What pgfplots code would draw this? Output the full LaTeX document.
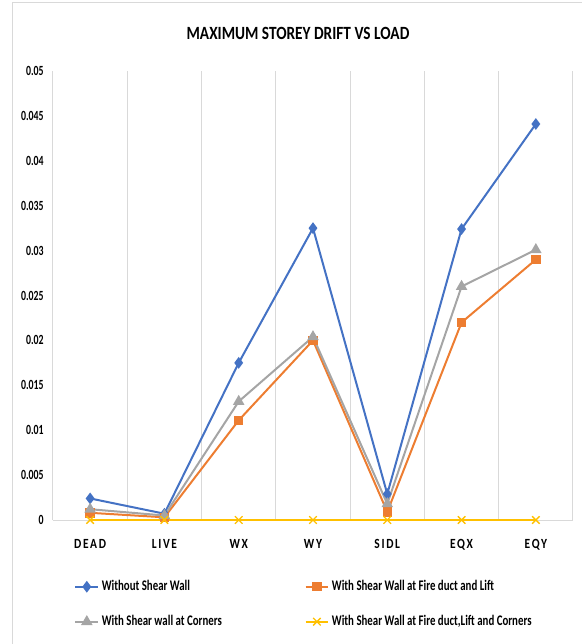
\documentclass[border=0pt]{standalone}
\usepackage{fontspec}
\setmainfont{Carlito}[FakeStretch=0.82]
\usepackage{pgfplots}
\pgfplotsset{compat=1.18}
\definecolor{cblue}{HTML}{4472C4}
\definecolor{corange}{HTML}{ED7D31}
\definecolor{cgray}{HTML}{A5A5A5}
\definecolor{cyellow}{HTML}{FFC000}
\definecolor{gridc}{HTML}{D9D9D9}
\begin{document}
\begin{tikzpicture}
\path[use as bounding box] (0,0) rectangle (436.5pt,483pt);
\draw[gridc, line width=0.75pt] (9pt,0pt) -- (9pt,480.75pt) -- (436.5pt,480.75pt);
\node[font=\bfseries\fontsize{14}{16}\selectfont] at (223.5pt,458.25pt) {MAXIMUM STOREY DRIFT VS LOAD};
\begin{axis}[
  at={(39.75pt,93pt)}, anchor=south west,
  scale only axis, width=390pt, height=336.75pt,
  xmin=-0.5, xmax=6.5, ymin=0, ymax=0.05,
  clip=false,
  axis lines=left,
  axis line style={-, gridc, line width=0.75pt},
  xtick={0,1,2,3,4,5,6},
  xticklabels={DEAD,LIVE,WX,WY,SIDL,EQX,EQY},
  minor xtick={-0.5,0.5,1.5,2.5,3.5,4.5,5.5,6.5},
  xminorgrids=true,
  minor grid style={gridc, line width=0.75pt},
  ytick={0,0.005,0.01,0.015,0.02,0.025,0.03,0.035,0.04,0.045,0.05},
  scaled y ticks=false,
  major tick length=0pt, minor tick length=0pt,
  /pgf/number format/assume math mode=true,
  yticklabel style={/pgf/number format/fixed, /pgf/number format/precision=3,
    font=\bfseries\fontsize{10.5}{12}\selectfont\addfontfeature{FakeStretch=0.7}, xshift=-3.5pt},
  xticklabel style={font=\bfseries\fontsize{10.5}{12}\selectfont\addfontfeature{LetterSpace=12}, yshift=-11pt},
  legend columns=2,
  legend cell align=left,
  legend style={at={(0.033,-0.1225)}, anchor=north west, draw=none, fill=none,
    font=\bfseries\fontsize{11}{12}\selectfont\addfontfeature{FakeStretch=0.74}, row sep=13pt},
]
\addplot[cblue, line width=1.5pt, mark=diamond*, mark size=3.2pt] coordinates {
 (0,0.0024) (1,0.0007) (2,0.0175) (3,0.0325) (4,0.0029) (5,0.0324) (6,0.0441)};
\addlegendentry{\makebox[150pt][l]{Without Shear Wall}}
\addplot[corange, line width=1.5pt, mark=square*, mark size=2.8pt] coordinates {
 (0,0.0008) (1,0.0003) (2,0.0111) (3,0.0200) (4,0.0009) (5,0.0220) (6,0.0290)};
\addlegendentry{With Shear Wall at Fire duct and Lift}
\addplot[cgray, line width=1.5pt, mark=triangle*, mark size=3.5pt] coordinates {
 (0,0.0012) (1,0.0005) (2,0.0132) (3,0.0204) (4,0.0018) (5,0.0260) (6,0.0301)};
\addlegendentry{\makebox[150pt][l]{With Shear wall at Corners}}
\addplot[cyellow, line width=1.5pt, mark=x, mark size=4pt, mark options={line width=1pt}] coordinates {
 (0,0) (1,0) (2,0) (3,0) (4,0) (5,0) (6,0)};
\addlegendentry{With Shear Wall at Fire duct,Lift and Corners}
\end{axis}
\end{tikzpicture}
\end{document}
